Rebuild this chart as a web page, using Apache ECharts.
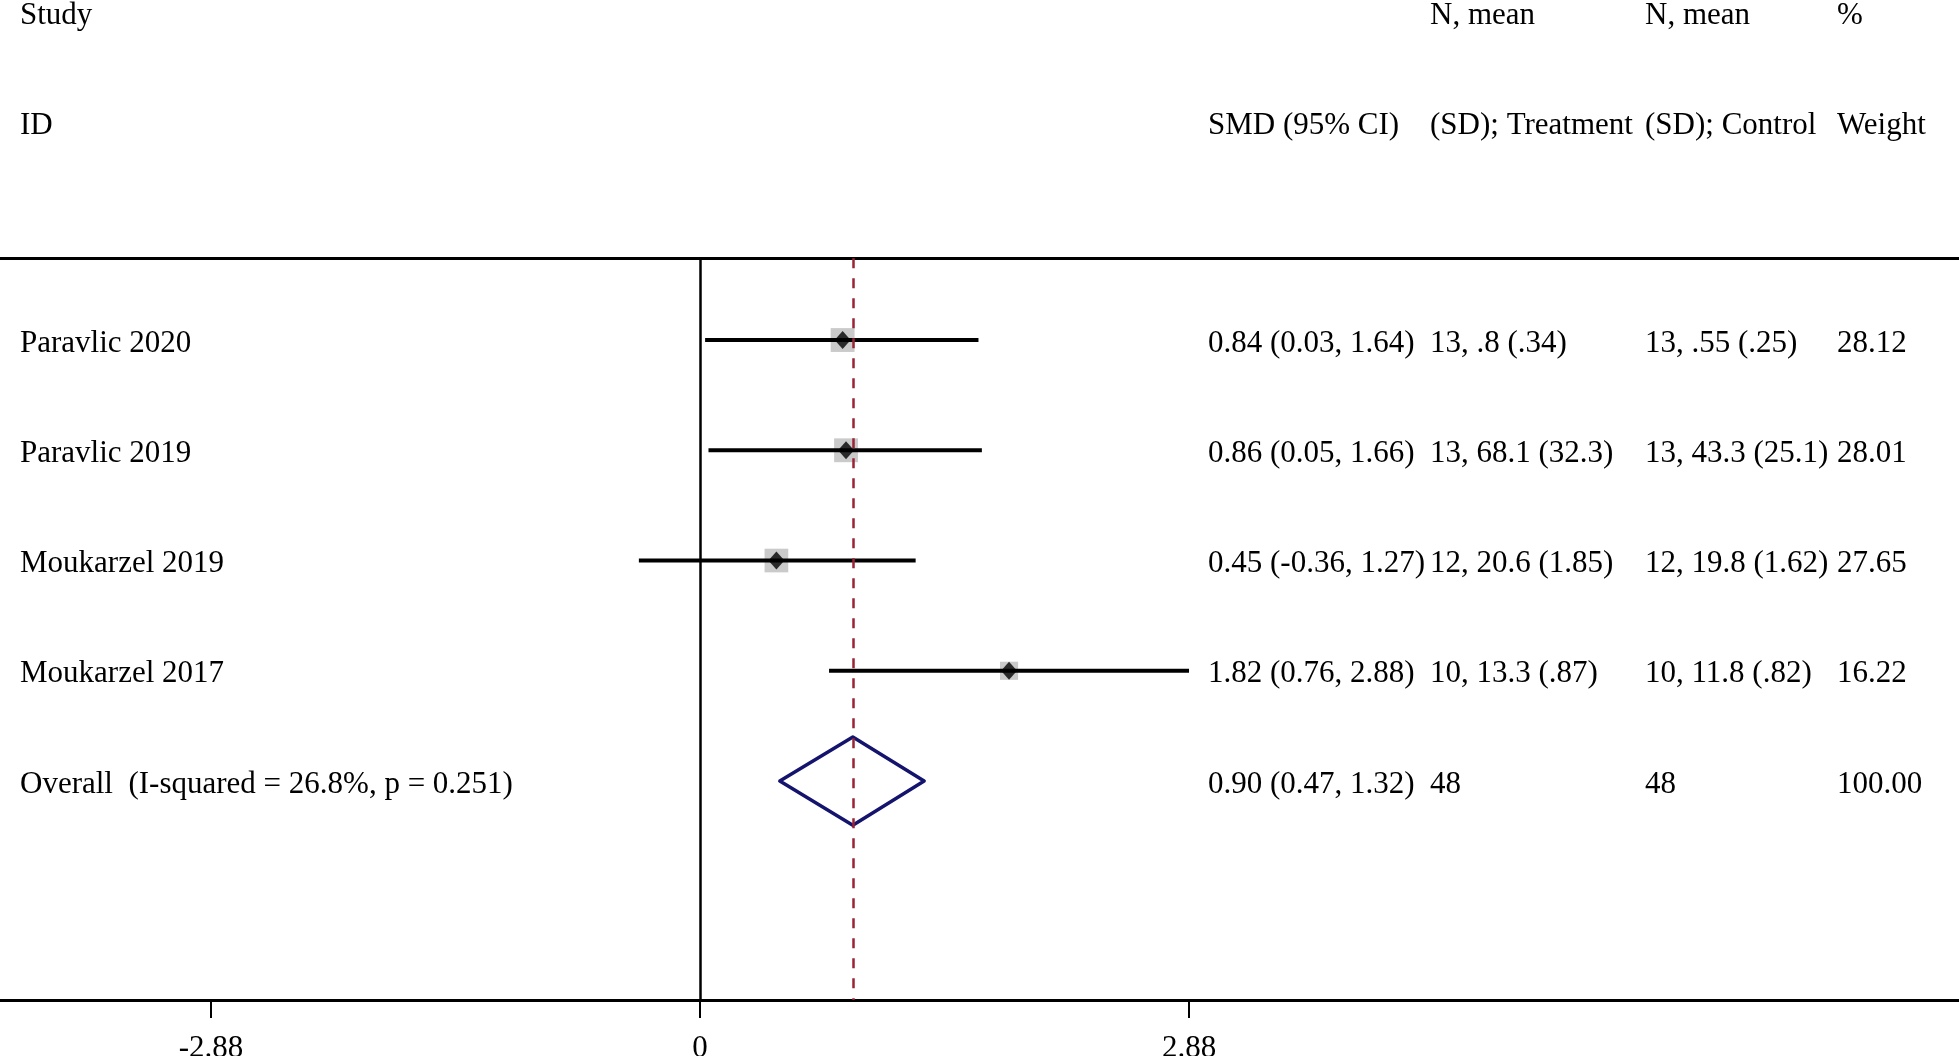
<!DOCTYPE html>
<html>
<head>
<meta charset="utf-8">
<script src="https://cdn.jsdelivr.net/npm/echarts@6/dist/echarts.min.js"></script>
<style>
html,body{margin:0;padding:0;background:#fff;}
#chart{width:1959px;height:1056px;}
</style>
</head>
<body>
<div id="chart"></div>
<script>
// ---- data ----
var studies = ['Paravlic 2020', 'Paravlic 2019', 'Moukarzel 2019', 'Moukarzel 2017'];
var smd = [0.84, 0.86, 0.45, 1.82];
var ciLow = [0.03, 0.05, -0.36, 0.76];
var ciHigh = [1.64, 1.66, 1.27, 2.88];
var weights = [28.12, 28.01, 27.65, 16.22];
var treatment = ['13, .8 (.34)', '13, 68.1 (32.3)', '12, 20.6 (1.85)', '10, 13.3 (.87)'];
var control = ['13, .55 (.25)', '13, 43.3 (25.1)', '12, 19.8 (1.62)', '10, 11.8 (.82)'];
var overallLabel = 'Overall  (I-squared = 26.8%, p = 0.251)';
var overall = [0.90, 0.47, 1.32];
var overallN = ['48', '48'];
var overallWeight = '100.00';
var tickValues = [-2.88, 0, 2.88];
var tickLabels = ['-2.88', '0', '2.88'];
var headerRow1 = ['Study', '', 'N, mean', 'N, mean', '%'];
var headerRow2 = ['ID', 'SMD (95% CI)', '(SD); Treatment', '(SD); Control', 'Weight'];

// ---- layout ----
var X_MIN = -4.1225, X_MAX = 7.4146;
var Y_MIN = -2.084, Y_MAX = 6.986;
var RULE_Y = 0.258;
var colX = [20, 1208, 1430, 1645, 1837];
var TEXT_DY = 3.5;
var FONT = '"Liberation Serif", "Times New Roman", serif';
var FS = 31;

function fmt(v) { return v.toFixed(2); }

// build rows
var rows = [];
rows.push({ y: -1.97, cells: headerRow1 });
rows.push({ y: -0.97, cells: headerRow2 });
for (var i = 0; i < studies.length; i++) {
  rows.push({ y: i + 1, cells: [studies[i], fmt(smd[i]) + ' (' + fmt(ciLow[i]) + ', ' + fmt(ciHigh[i]) + ')', treatment[i], control[i], fmt(weights[i])] });
}
rows.push({ y: studies.length + 1, cells: [overallLabel, fmt(overall[0]) + ' (' + fmt(overall[1]) + ', ' + fmt(overall[2]) + ')', overallN[0], overallN[1], overallWeight] });

var ciData = studies.map(function (s, i) { return [ciLow[i], ciHigh[i], i + 1]; });
var sqData = studies.map(function (s, i) { return { value: [smd[i], i + 1], symbolSize: 4.5 * Math.sqrt(weights[i]) }; });
var ptData = studies.map(function (s, i) { return [smd[i], i + 1]; });
var ovRow = studies.length + 1;

var chart = echarts.init(document.getElementById('chart'));
chart.setOption({
  animation: false,
  backgroundColor: '#fff',
  grid: { left: 0, right: 0, top: 0, bottom: 56, containLabel: false, outerBoundsMode: 'none' },
  xAxis: {
    type: 'value', min: X_MIN, max: X_MAX,
    splitLine: { show: false },
    axisLine: { show: true, onZero: false, lineStyle: { color: '#000', width: 3 } },
    axisTick: { show: true, customValues: tickValues, length: 18, lineStyle: { color: '#000', width: 2 } },
    axisLabel: {
      show: true, customValues: tickValues, margin: 33,
      fontFamily: FONT, fontSize: FS, color: '#000',
      formatter: function (v) { var k = tickValues.indexOf(v); return k >= 0 ? tickLabels[k] : ''; }
    }
  },
  yAxis: {
    type: 'value', min: Y_MIN, max: Y_MAX, inverse: true, show: false
  },
  series: [
    {
      type: 'scatter', name: 'weight', symbol: 'rect', data: sqData,
      itemStyle: { color: '#bdbdbd' }, z: 2,
      markLine: {
        silent: true, symbol: 'none', label: { show: false },
        data: [
          [{ coord: [X_MIN, RULE_Y], lineStyle: { color: '#000', width: 3, type: 'solid' } }, { coord: [X_MAX, RULE_Y] }],
          [{ coord: [0, RULE_Y], lineStyle: { color: '#000', width: 2.5, type: 'solid' } }, { coord: [0, Y_MAX] }],
          [{ coord: [overall[0], RULE_Y], lineStyle: { color: '#9b2335', width: 2.5, type: [10, 10] } }, { coord: [overall[0], Y_MAX] }]
        ]
      }
    },
    {
      type: 'custom', name: 'ci', data: ciData, z: 3,
      renderItem: function (params, api) {
        var a = api.coord([api.value(0), api.value(2)]);
        var b = api.coord([api.value(1), api.value(2)]);
        return { type: 'line', shape: { x1: a[0], y1: a[1], x2: b[0], y2: b[1] }, style: { stroke: '#000', lineWidth: 4 } };
      }
    },
    {
      type: 'scatter', name: 'smd', symbol: 'diamond', symbolSize: [16, 18], data: ptData,
      itemStyle: { color: '#000' }, z: 4
    },
    {
      type: 'custom', name: 'overall', data: [overall], z: 4,
      renderItem: function (params, api) {
        var est = api.value(0), lo = api.value(1), hi = api.value(2);
        var p1 = api.coord([lo, ovRow]);
        var p2 = api.coord([est, ovRow - 0.4]);
        var p3 = api.coord([hi, ovRow]);
        var p4 = api.coord([est, ovRow + 0.4]);
        return { type: 'polygon', shape: { points: [p1, p2, p3, p4] }, style: { fill: 'none', stroke: '#14146e', lineWidth: 3.5, lineJoin: 'round' } };
      }
    },
    {
      type: 'custom', name: 'text', data: rows.map(function (r, i) { return [0, r.y, i]; }), z: 5, clip: false,
      renderItem: function (params, api) {
        var r = rows[api.value(2)];
        var y = api.coord([0, api.value(1)])[1] + TEXT_DY;
        var children = r.cells.map(function (t, c) {
          return { type: 'text', style: { text: t, x: colX[c], y: y, fill: '#000', font: FS + 'px ' + FONT, textAlign: 'left', textVerticalAlign: 'middle' } };
        });
        return { type: 'group', children: children };
      }
    }
  ]
});
</script>
</body>
</html>
